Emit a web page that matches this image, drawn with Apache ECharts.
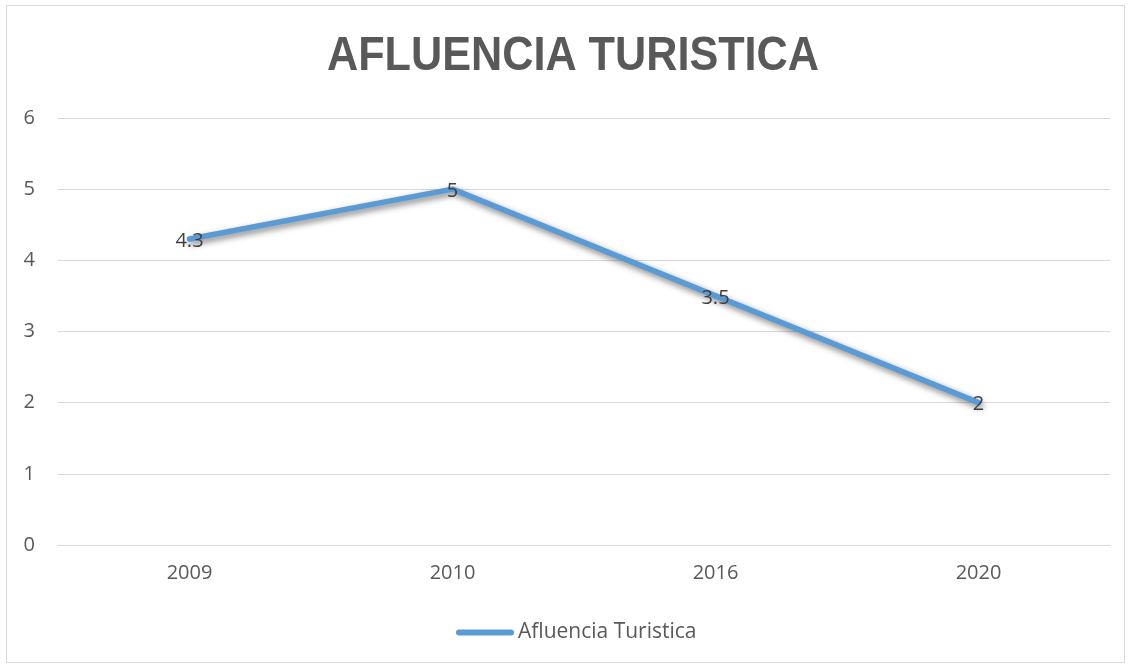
<!DOCTYPE html>
<html><head><meta charset="utf-8">
<script src="https://cdn.jsdelivr.net/npm/echarts@6/dist/echarts.min.js"></script>
<style>
html,body{margin:0;padding:0;background:#fff;}
#frame{position:absolute;left:6px;top:5px;width:1119px;height:658px;border:1px solid #d9d9d9;box-sizing:border-box;}
#c{position:absolute;left:0;top:0;width:1131px;height:664px;}
</style></head>
<body><div id="frame"></div><div id="c"></div>
<script>
const categories = ['2009', '2010', '2016', '2020'];
const values = [4.3, 5, 3.5, 2];
const seriesName = 'Afluencia Turistica';
const titleText = 'AFLUENCIA TURISTICA';

const chart = echarts.init(document.getElementById('c'));
chart.setOption({
  animation: false,
  graphic: [{
    type: 'text', x: 573, y: 57, scaleX: 0.9, scaleY: 1,
    style: {
      text: titleText, fill: '#595959',
      font: 'bold 48px "Liberation Sans", Arial, sans-serif',
      align: 'center', verticalAlign: 'middle'
    }
  }],
  grid: { left: 58, right: 21, top: 118, bottom: 119, containLabel: false },
  legend: {
    top: 617, left: 451, itemWidth: 58, itemHeight: 6, itemGap: 10,
    textStyle: { fontFamily: '"Open Sans", sans-serif', fontSize: 21, color: '#595959', padding: [0,0,0,-1] },
    data: [{ name: seriesName, icon: 'path://M3,0 L55,0 A3,3 0 0 1 55,6 L3,6 A3,3 0 0 1 3,0 Z' }]
  },
  xAxis: {
    type: 'category', data: categories, boundaryGap: true,
    axisLine: { show: true, lineStyle: { color: '#d9d9d9', width: 1 } },
    axisTick: { show: false },
    axisLabel: { margin: 18, fontFamily: '"Open Sans", sans-serif', fontSize: 20, color: '#595959' }
  },
  yAxis: {
    type: 'value', min: 0, max: 6, interval: 1,
    axisLine: { show: false }, axisTick: { show: false },
    splitLine: { lineStyle: { color: '#d9d9d9', width: 1 } },
    axisLabel: { margin: 23, fontFamily: '"Open Sans", sans-serif', fontSize: 20, color: '#595959' }
  },
  series: [{
    name: seriesName, type: 'line', data: values,
    symbol: 'circle', symbolSize: 5, showSymbol: true,
    itemStyle: { color: '#5b9bd5', borderWidth: 0 },
    lineStyle: { color: '#5b9bd5', width: 5.5, cap: 'round', join: 'round',
      shadowColor: 'rgba(0,0,0,0.5)', shadowBlur: 6, shadowOffsetX: 2, shadowOffsetY: 3 },
    label: { show: true, position: 'inside', offset: [0, 2], fontFamily: '"Open Sans", sans-serif', fontSize: 20, color: '#404040' },
    emphasis: { disabled: true }
  }]
});
</script></body></html>
